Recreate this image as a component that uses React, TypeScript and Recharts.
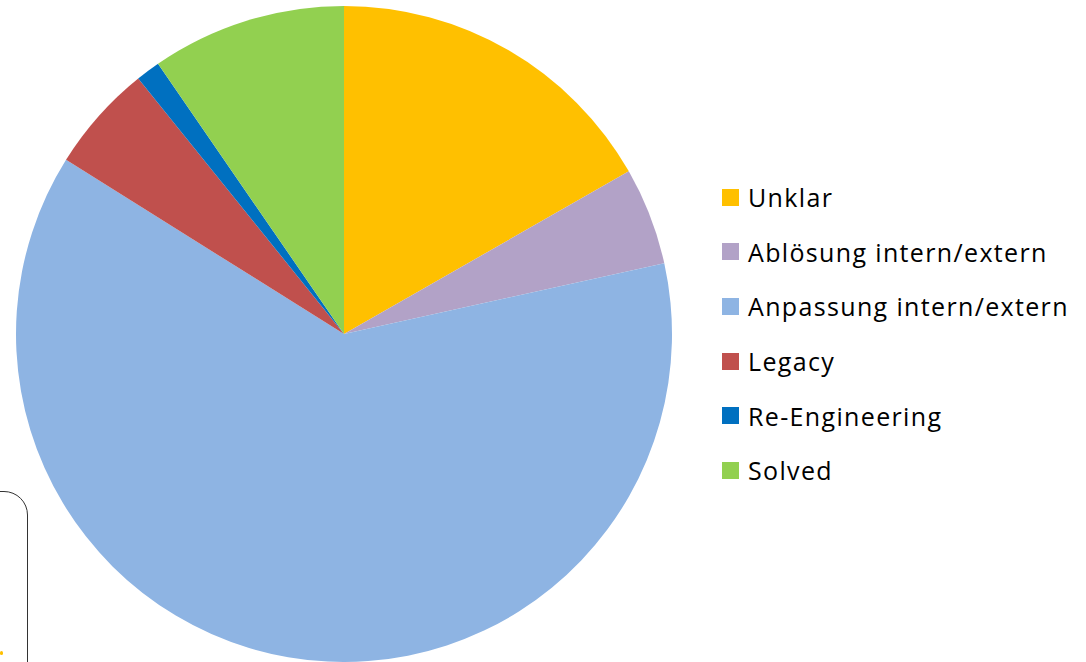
import { Cell, Legend, Pie, PieChart } from "recharts";

// slice shares in percent (clockwise from 12 o'clock)
const categories = ["Unklar", "Ablösung intern/extern", "Anpassung intern/extern", "Legacy", "Re-Engineering", "Solved"];
const shares = [16.75, 4.8, 62.4, 5.3, 1.2, 9.6];
const colors = ["#FFC000", "#B2A2C7", "#8EB4E3", "#C0504D", "#0070C0", "#92D050"];

const data = categories.map((name, i) => ({ name, value: shares[i] }));

function LegendList() {
  return (
    <div style={{ fontFamily: "'Open Sans', sans-serif", fontSize: 25, letterSpacing: 1.35, color: "#000" }}>
      {categories.map((name, i) => (
        <div key={name} style={{ display: "flex", alignItems: "center", height: 54.6 }}>
          <span style={{ width: 17, height: 17, background: colors[i], marginRight: 9, display: "inline-block" }} />
          <span>{name}</span>
        </div>
      ))}
    </div>
  );
}

export default function App() {
  return (
    <div style={{ position: "absolute", left: 0, top: 0, width: 1086, height: 662, overflow: "hidden", background: "#fff" }}>
      <PieChart width={1086} height={662} margin={{ top: 0, right: 0, bottom: 0, left: 0 }}>
        <Pie
          data={data}
          dataKey="value"
          nameKey="name"
          cx={344}
          cy={334}
          outerRadius={328}
          startAngle={90}
          endAngle={-270}
          stroke="none"
          isAnimationActive={false}
        >
          {data.map((d, i) => (
            <Cell key={d.name} fill={colors[i]} />
          ))}
        </Pie>
        <Legend
          layout="vertical"
          align="right"
          verticalAlign="top"
          wrapperStyle={{ left: 722, top: 170, width: 364 }}
          content={() => <LegendList />}
        />
      </PieChart>
      {/* leftover frame in the lower-left corner of the source slide */}
      <div
        style={{
          position: "absolute",
          left: -30,
          top: 491,
          width: 56,
          height: 200,
          border: "1px solid #333",
          borderRadius: 24,
        }}
      />
      <div style={{ position: "absolute", left: 0, top: 651, width: 3, height: 4, background: "#FFC000", borderRadius: 2 }} />
    </div>
  );
}
